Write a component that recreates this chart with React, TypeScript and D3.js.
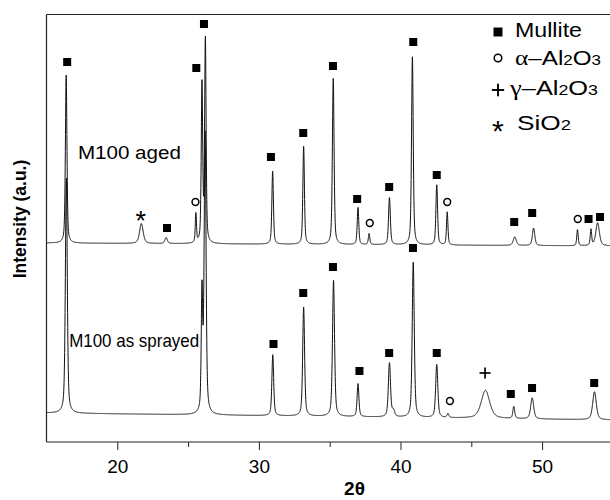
import React, { useEffect, useRef } from 'react';
import * as d3 from 'd3';

// 2-theta range and tick values
const thetaRange = [15, 55];
const majorTicks = [20, 30, 40, 50];
const minorTicks = [25, 35, 45];

// "M100 aged" trace: baseline at both ends, then the peaks
const agedBase = [199, 196];
const agedPos = [16.39, 21.7, 23.45, 25.55, 25.98, 26.22, 30.97, 33.16, 35.25, 37.0, 37.78, 39.22, 40.84, 42.56, 43.3, 48.07, 49.4, 52.5, 53.45, 53.92];
const agedHeight = [168, 20, 6, 29, 158, 203, 73, 98, 166, 37, 11, 47, 188, 60, 33, 8.5, 17.5, 16, 16, 23];
const agedWidth = [0.13, 0.3, 0.2, 0.1, 0.12, 0.12, 0.13, 0.13, 0.14, 0.13, 0.12, 0.15, 0.14, 0.14, 0.12, 0.25, 0.2, 0.12, 0.12, 0.3];

// "M100 as sprayed" trace
const sprayedBase = [29, 22];
const sprayedPos = [16.4, 25.98, 26.2, 30.98, 33.16, 35.27, 37.0, 39.22, 39.5, 40.9, 42.56, 43.35, 46.0, 48.0, 49.3, 53.7];
const sprayedHeight = [235, 118, 280, 61, 109, 136, 33, 54, 6, 155, 53, 4, 28, 12, 21, 28];
const sprayedWidth = [0.16, 0.12, 0.16, 0.15, 0.16, 0.17, 0.15, 0.18, 0.2, 0.17, 0.18, 0.15, 0.7, 0.15, 0.25, 0.3];

// phase markers: M mullite, A alpha-Al2O3, G gamma-Al2O3, S SiO2
const agedMarkPos = [16.46, 21.65, 23.51, 25.52, 25.58, 26.12, 30.85, 33.13, 35.23, 36.94, 37.83, 39.2, 40.9, 42.56, 43.3, 48.03, 49.3, 52.52, 53.28, 54.09];
const agedMarkLevel = [380, 227, 214, 240, 374, 418, 285, 309, 376, 243, 219, 255, 400, 267, 240, 220, 229, 223, 223, 225];
const agedMarkPhase = ['M', 'S', 'M', 'A', 'M', 'M', 'M', 'M', 'M', 'M', 'A', 'M', 'M', 'M', 'A', 'M', 'M', 'A', 'M', 'M'];

const sprayedMarkPos = [31.03, 33.13, 35.23, 37.1, 39.2, 40.88, 42.56, 43.49, 45.97, 47.79, 49.29, 53.68];
const sprayedMarkLevel = [98, 149, 175, 71, 89, 194, 89, 41, 69, 48, 54, 59];
const sprayedMarkPhase = ['M', 'M', 'M', 'M', 'M', 'M', 'M', 'A', 'G', 'M', 'M', 'M'];

const legendPhase = ['M', 'A', 'G', 'S'];

const font = '"Liberation Sans", Arial, sans-serif';
const serif = '"Liberation Serif", "Times New Roman", serif';

const x = d3.scaleLinear().domain(thetaRange).range([46.5, 612.9]);
const y = d3.scaleLinear().domain([0, 428]).range([442, 14]);

function trace(base: number[], pos: number[], hgt: number[], wid: number[]) {
  const pts: [number, number][] = [];
  const baseAt = d3.scaleLinear().domain(thetaRange).range(base);
  for (let t = thetaRange[0]; t <= thetaRange[1] + 1e-9; t += 0.01) {
    let v = baseAt(t);
    pos.forEach((c, i) => {
      const u = (t - c) / (wid[i] / 2);
      const lor = 1 / (1 + u * u);
      const gau = Math.exp(-Math.LN2 * u * u);
      v += hgt[i] * (0.5 * lor + 0.5 * gau);
    });
    pts.push([t, v]);
  }
  return pts;
}

function Marker({ phase, cx, cy, big }: { phase: string; cx: number; cy: number; big?: boolean }) {
  const k = big ? 1.12 : 1;
  if (phase === 'M') {
    const s = 8 * k;
    return <rect x={cx - s / 2} y={cy - s / 2} width={s} height={s} fill="#000" />;
  }
  if (phase === 'A') {
    return <circle cx={cx} cy={cy} r={3.4 * k} fill="#fff" stroke="#000" strokeWidth={1.5} />;
  }
  if (phase === 'G') {
    const a = 5.5 * k;
    return (
      <g stroke="#000" strokeWidth={1.7 * k}>
        <line x1={cx - a} x2={cx + a} y1={cy} y2={cy} />
        <line x1={cx} x2={cx} y1={cy - a} y2={cy + a} />
      </g>
    );
  }
  const fs = 27 * k;
  return (
    <text x={cx} y={cy + fs * 0.56} textAnchor="middle" fontSize={fs} fontFamily={font}>*</text>
  );
}

export default function App() {
  const axisRef = useRef<SVGGElement>(null);

  useEffect(() => {
    const g = d3.select(axisRef.current);
    g.selectAll('*').remove();
    g.append('g')
      .call(d3.axisBottom(x).tickValues(majorTicks).tickSize(8).tickSizeOuter(0).tickPadding(10).tickFormat(d3.format('d')))
      .call(s => s.select('.domain').remove())
      .call(s => s.selectAll('line').attr('stroke', '#222'))
      .call(s => s.selectAll('text').attr('font-size', 19).attr('font-family', font).attr('fill', '#000'));
    g.append('g')
      .call(d3.axisBottom(x).tickValues(minorTicks).tickSize(5).tickFormat(() => ''))
      .call(s => s.select('.domain').remove())
      .call(s => s.selectAll('line').attr('stroke', '#222'));
  }, []);

  const line = d3.line<[number, number]>().x(d => x(d[0])).y(d => y(d[1]));
  const aged = trace(agedBase, agedPos, agedHeight, agedWidth);
  const sprayed = trace(sprayedBase, sprayedPos, sprayedHeight, sprayedWidth);

  return (
    <svg width={610} height={500} style={{ position: 'absolute', left: 0, top: 0, background: '#fff' }}>
      <defs>
        <clipPath id="plot">
          <rect x={46.5} y={14.5} width={570} height={427.5} />
        </clipPath>
      </defs>
      <rect width={610} height={500} fill="#fff" />

      <g clipPath="url(#plot)" fill="none" stroke="#111" strokeWidth={1}>
        <path d={line(sprayed) || ''} />
        <path d={line(aged) || ''} />
      </g>

      {agedMarkPos.map((t, i) => (
        <Marker key={'a' + i} phase={agedMarkPhase[i]} cx={x(t)} cy={y(agedMarkLevel[i])} />
      ))}
      {sprayedMarkPos.map((t, i) => (
        <Marker key={'s' + i} phase={sprayedMarkPhase[i]} cx={x(t)} cy={y(sprayedMarkLevel[i])} />
      ))}

      {/* frame */}
      <g stroke="#222" strokeWidth={1.2} fill="none">
        <line x1={46.5} x2={46.5} y1={14.5} y2={442} />
        <line x1={46.5} x2={610} y1={14.5} y2={14.5} />
        <line x1={46.5} x2={610} y1={442} y2={442} />
      </g>
      <g ref={axisRef} transform="translate(0,442)" />

      <text x={x(17.22)} y={y(282.7)} fontFamily={font} fontSize={17.5} textLength={103} lengthAdjust="spacingAndGlyphs">M100 aged</text>
      <text x={x(16.6)} y={y(95.3)} fontFamily={font} fontSize={19} textLength={130} lengthAdjust="spacingAndGlyphs">M100 as sprayed</text>

      <text transform="translate(25.5,219) rotate(-90)" textAnchor="middle" fontFamily={font} fontWeight="bold" fontSize={17.5}>Intensity (a.u.)</text>
      <text x={354.5} y={495} textAnchor="middle" fontFamily={font} fontWeight="bold" fontSize={19}>2θ</text>

      {/* legend */}
      <g fontFamily={font} fontSize={20}>
        {legendPhase.map((p, i) => (
          <Marker key={p} phase={p} cx={498} cy={[32, 58, 90, 124][i]} big />
        ))}
        <text x={515} y={37} textLength={67} lengthAdjust="spacingAndGlyphs">Mullite</text>
        <text x={515} y={65} textLength={86} lengthAdjust="spacingAndGlyphs">
          <tspan fontFamily={serif} fontSize={21}>α</tspan>–Al<tspan fontSize={14}>2</tspan>O<tspan fontSize={14}>3</tspan>
        </text>
        <text x={510} y={95} textLength={88} lengthAdjust="spacingAndGlyphs">
          <tspan fontFamily={serif} fontSize={21}>γ</tspan>–Al<tspan fontSize={14}>2</tspan>O<tspan fontSize={14}>3</tspan>
        </text>
        <text x={517} y={130} textLength={54} lengthAdjust="spacingAndGlyphs">SiO<tspan fontSize={14}>2</tspan></text>
      </g>
    </svg>
  );
}
